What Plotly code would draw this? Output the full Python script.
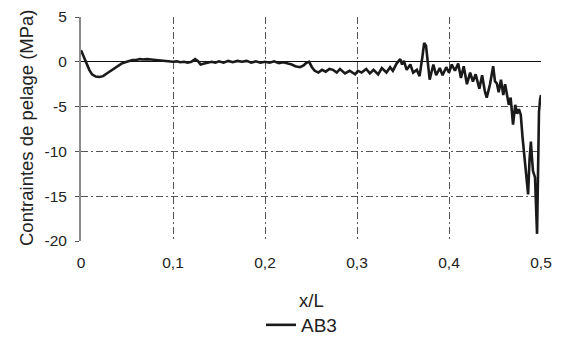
import plotly.graph_objects as go

# x/L positions and peel stress (MPa)
x_vals = [
    0.000, 0.003, 0.006, 0.009, 0.012, 0.016, 0.020, 0.024, 0.028, 0.032,
    0.036, 0.040, 0.044, 0.048, 0.052, 0.056, 0.060, 0.064, 0.068, 0.072,
    0.076, 0.080, 0.084, 0.088, 0.092, 0.096, 0.100, 0.104, 0.108, 0.112,
    0.116, 0.120, 0.124, 0.127, 0.130, 0.134, 0.138, 0.142, 0.146, 0.150,
    0.155, 0.160, 0.165, 0.170, 0.175, 0.180, 0.185, 0.190, 0.195, 0.200,
    0.205, 0.210, 0.215, 0.220, 0.225, 0.229, 0.233, 0.238, 0.242, 0.245,
    0.248, 0.251, 0.254, 0.258, 0.262, 0.266, 0.270, 0.274, 0.278, 0.2815,
    0.287, 0.292, 0.298, 0.301, 0.305, 0.310, 0.314, 0.318, 0.323, 0.327,
    0.332, 0.336, 0.339, 0.343, 0.347, 0.349, 0.351, 0.354, 0.358, 0.361,
    0.365, 0.368, 0.371, 0.373, 0.375, 0.377, 0.379, 0.383, 0.386, 0.390,
    0.393, 0.397, 0.400, 0.403, 0.4065, 0.410, 0.413, 0.416, 0.4195, 0.423,
    0.426, 0.429, 0.433, 0.436, 0.439, 0.441, 0.4446, 0.448, 0.450, 0.452,
    0.454, 0.4565, 0.459, 0.461, 0.463, 0.465, 0.467, 0.4696, 0.472, 0.474,
    0.476, 0.478, 0.480, 0.4826, 0.485, 0.486, 0.4875, 0.489, 0.490, 0.4913,
    0.4935, 0.4946, 0.4957, 0.4967, 0.4978, 0.499, 0.500,
]
peel_stress = [
    1.3, 0.6, -0.3, -0.9, -1.4, -1.65, -1.7, -1.6, -1.3, -1.0,
    -0.7, -0.45, -0.2, -0.05, 0.1, 0.2, 0.2, 0.3, 0.25, 0.3,
    0.25, 0.2, 0.2, 0.15, 0.1, 0.05, 0.0, 0.05, -0.05, 0.0,
    -0.1, 0.0, 0.3, 0.1, -0.3, -0.2, -0.1, 0.0, -0.1, 0.05,
    -0.1, 0.1, -0.05, 0.1, 0.0, 0.1, -0.1, 0.05, -0.1, 0.0,
    -0.1, 0.05, -0.15, -0.05, -0.2, -0.3, -0.5, -0.6, -0.4, -0.1,
    0.0, -0.6, -1.0, -1.2, -0.9, -1.1, -0.8, -0.9, -1.2, -0.8,
    -1.3, -1.0, -1.4, -1.0, -1.2, -0.8, -1.3, -0.9, -1.4, -0.7,
    -1.2, -0.6, -1.0, -0.2, 0.3, -0.3, 0.1, -0.9, -0.3, -1.2,
    -0.9, -1.6, 0.5, 2.1, 1.8, -0.5, -2.0, -0.3, -1.5, -0.7,
    -1.5, -0.6, -1.2, -0.3, -1.0, -0.2, -1.8, -0.5, -2.5, -1.2,
    -2.2, -1.4, -3.0, -1.5, -3.3, -4.0, -2.5, -0.5, -2.2, -2.4,
    -3.4, -2.0, -3.7, -2.5, -3.5, -4.8, -4.0, -7.0, -4.8, -5.8,
    -5.3, -5.9, -8.5, -11.0, -13.5, -14.8, -11.0, -8.9, -10.5, -12.2,
    -12.9, -16.0, -19.2, -13.0, -5.6, -4.2, -3.7,
]
series_name = "AB3"
x_title = "x/L"
y_title = "Contraintes de pelage (MPa)"

x_ticks = [0, 0.1, 0.2, 0.3, 0.4, 0.5]
x_tick_labels = ["0", "0,1", "0,2", "0,3", "0,4", "0,5"]
y_ticks = [5, 0, -5, -10, -15, -20]
y_tick_labels = ["5", "0", "-5", "-10", "-15", "-20"]

FONT = "Liberation Sans, Arial, sans-serif"
GRID_DASH = "7px,3px,2px,3px"
TXT = "#222"

# plot-area geometry in pixels
W, H = 561, 338
L, R, T, B = 81, 20, 17, 97
PW, PH = W - L - R, H - T - B

fig = go.Figure()
fig.add_trace(go.Scatter(
    x=x_vals, y=peel_stress, mode="lines", name=series_name,
    line=dict(color="#1a1a1a", width=2.6),
))

fig.update_layout(
    width=W, height=H,
    margin=dict(l=L, r=R, t=T, b=B, autoexpand=False),
    paper_bgcolor="white", plot_bgcolor="white",
    font=dict(family=FONT, size=15.5, color=TXT),
    showlegend=True,
    legend=dict(orientation="h", x=(261 - L) / PW, xanchor="left",
                yref="container", y=1 - 325 / H, yanchor="middle",
                font=dict(size=19, color=TXT), itemwidth=30),
    annotations=[
        dict(text=x_title, xref="paper", yref="paper",
             x=(311 - L) / PW, y=(T + PH - 300) / PH,
             xanchor="center", yanchor="middle", showarrow=False,
             font=dict(size=18.5, color=TXT)),
        dict(text=y_title, xref="paper", yref="paper",
             x=(26 - L) / PW, y=(T + PH - 128) / PH, textangle=-90,
             xanchor="center", yanchor="middle", showarrow=False,
             font=dict(size=18.5, color=TXT)),
    ],
)
fig.update_xaxes(
    range=[0, 0.5], tickvals=x_ticks, ticktext=x_tick_labels,
    showgrid=True, gridcolor="#555", gridwidth=1, griddash=GRID_DASH,
    zeroline=False, showline=False, ticks="", ticklabelstandoff=10,
    tickfont=dict(size=15.5), automargin=False,
)
fig.update_yaxes(
    range=[-20, 5], tickvals=y_ticks, ticktext=y_tick_labels,
    showgrid=True, gridcolor="#555", gridwidth=1, griddash=GRID_DASH,
    zeroline=True, zerolinecolor="#111", zerolinewidth=1,
    showline=True, linecolor="#8a8a8a", linewidth=2,
    ticks="outside", ticklen=4, tickcolor="#555", ticklabelstandoff=5,
    tickfont=dict(size=15.5), automargin=False,
)

# remove the browser's default 8px page margin so the figure sits at the window origin
fig.write_html("out.html", config={"displayModeBar": False},
               post_script="document.body.style.margin='0';")
